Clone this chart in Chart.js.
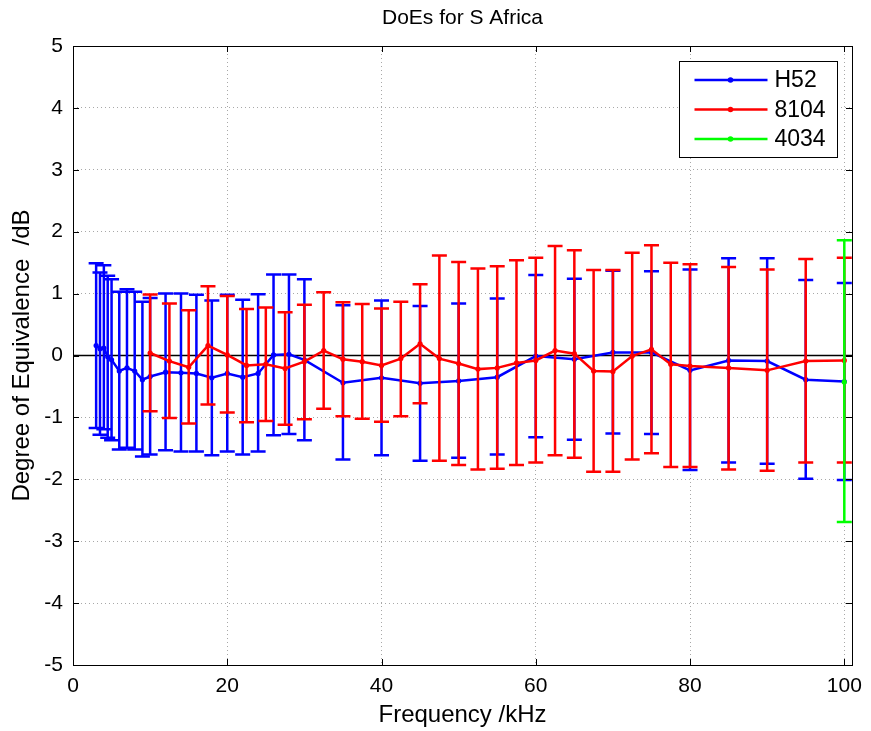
<!DOCTYPE html>
<html>
<head>
<meta charset="utf-8">
<script src="https://cdn.jsdelivr.net/npm/chart.js@4.4.1/dist/chart.umd.min.js"></script>
<style>
  html, body { margin: 0; padding: 0; background: #fff; }
  #wrap { width: 871px; height: 731px; }
</style>
</head>
<body>
<div id="wrap"><canvas id="c" width="871" height="731"></canvas></div>
<script>
// ---- data ----
const chartTitle = 'DoEs for S Africa';
const xTitle = 'Frequency /kHz';
const yTitle = 'Degree of Equivalence  /dB';
const xTicks = [0, 20, 40, 60, 80, 100];
const yTicks = [-5, -4, -3, -2, -1, 0, 1, 2, 3, 4, 5];
const seriesNames = ['H52', '8104', '4034'];

const freqH52 = [3,3.5,4,4.5,5,6,7,8,9,10,12,14,16,18,20,22,24,26,28,30,35,40,45,50,55,60,65,70,75,80,85,90,95,100];
const doeH52  = [0.16,0.11,0.12,-0.02,-0.07,-0.25,-0.20,-0.25,-0.39,-0.34,-0.27,-0.28,-0.29,-0.36,-0.29,-0.35,-0.29,0.01,0.02,-0.07,-0.44,-0.36,-0.45,-0.41,-0.35,-0.01,-0.06,0.05,0.05,-0.24,-0.08,-0.09,-0.39,-0.42];
const upH52   = [1.49,1.34,1.46,1.29,1.23,1.03,1.07,1.03,0.87,0.93,1.00,1.00,0.98,0.89,0.98,0.90,0.99,1.31,1.31,1.23,0.81,0.89,0.80,0.84,0.92,1.30,1.24,1.37,1.36,1.39,1.57,1.57,1.22,1.17];
const loH52   = [-1.17,-1.28,-1.19,-1.33,-1.37,-1.52,-1.49,-1.52,-1.63,-1.60,-1.53,-1.55,-1.55,-1.61,-1.55,-1.60,-1.55,-1.29,-1.27,-1.37,-1.68,-1.61,-1.70,-1.65,-1.60,-1.32,-1.36,-1.26,-1.27,-1.85,-1.73,-1.75,-1.99,-2.01];

const freq8104 = [10,12.5,15,17.5,20,22.5,25,27.5,30,32.5,35,37.5,40,42.5,45,47.5,50,52.5,55,57.5,60,62.5,65,67.5,70,72.5,75,77.5,80,85,90,95,100];
const doe8104  = [0.04,-0.09,-0.19,0.16,0.01,-0.16,-0.14,-0.21,-0.10,0.08,-0.06,-0.10,-0.16,-0.05,0.19,-0.05,-0.13,-0.22,-0.20,-0.12,-0.08,0.08,0.03,-0.25,-0.26,-0.01,0.10,-0.14,-0.17,-0.20,-0.24,-0.09,-0.08];
const up8104   = [0.985,0.84,0.73,1.12,0.96,0.75,0.775,0.70,0.82,1.02,0.86,0.83,0.76,0.87,1.15,1.615,1.51,1.405,1.44,1.54,1.58,1.77,1.70,1.38,1.38,1.66,1.78,1.50,1.475,1.43,1.39,1.56,1.58];
const lo8104   = [-0.90,-1.01,-1.10,-0.79,-0.92,-1.08,-1.06,-1.12,-1.03,-0.86,-0.98,-1.02,-1.07,-0.98,-0.77,-1.70,-1.77,-1.84,-1.83,-1.77,-1.73,-1.61,-1.65,-1.88,-1.88,-1.68,-1.58,-1.80,-1.80,-1.84,-1.86,-1.73,-1.73];

const freq4034 = [100];
const doe4034  = [-0.43];
const up4034   = [1.86];
const lo4034   = [-2.69];

// ---- chart ----
const FONT = "'Liberation Sans', Arial, Helvetica, sans-serif";
Chart.defaults.font.family = FONT;
Chart.defaults.color = '#000';

function pts(xs, ys) { return xs.map((x, i) => ({ x: x, y: ys[i] })); }

function mkSet(label, xs, ys, up, lo, color, order) {
  return {
    label: label, data: pts(xs, ys), errHigh: up, errLow: lo,
    borderColor: color, backgroundColor: color,
    borderWidth: 2.5, pointRadius: 2.6, pointHoverRadius: 2.6,
    pointBorderWidth: 0, showLine: true, tension: 0, order: order
  };
}

const errorBars = {
  id: 'errorBars',
  afterDatasetDraw(chart, args) {
    const ds = chart.data.datasets[args.index];
    if (!ds.errHigh) return;
    const xs = chart.scales.x, ys = chart.scales.y, ctx = chart.ctx;
    ctx.save();
    ctx.strokeStyle = ds.borderColor;
    ctx.lineWidth = 2.5;
    ctx.lineCap = 'butt';
    ds.data.forEach((p, i) => {
      const x = xs.getPixelForValue(p.x);
      const yh = ys.getPixelForValue(ds.errHigh[i]);
      const yl = ys.getPixelForValue(ds.errLow[i]);
      ctx.beginPath();
      ctx.moveTo(x, yh); ctx.lineTo(x, yl);
      ctx.moveTo(x - 7.5, yh); ctx.lineTo(x + 7.5, yh);
      ctx.moveTo(x - 7.5, yl); ctx.lineTo(x + 7.5, yl);
      ctx.stroke();
    });
    ctx.restore();
  }
};

const frame = {
  id: 'frame',
  beforeDatasetsDraw(chart) {
    const { ctx, chartArea: a } = chart;
    const y0 = chart.scales.y.getPixelForValue(0);
    ctx.save();
    ctx.strokeStyle = '#000';
    ctx.lineWidth = 1.5;
    ctx.beginPath();
    ctx.moveTo(a.left, y0); ctx.lineTo(a.right, y0);
    ctx.stroke();
    ctx.restore();
  },
  afterDraw(chart) {
    const { ctx, chartArea: a } = chart;
    const xs = chart.scales.x, ys = chart.scales.y;
    ctx.save();
    ctx.strokeStyle = '#000';
    ctx.lineWidth = 1;
    ctx.strokeRect(Math.round(a.left) + 0.5, Math.round(a.top) + 0.5,
                   Math.round(a.right - a.left), Math.round(a.bottom - a.top));
    const tl = 6;
    ctx.beginPath();
    xTicks.forEach(v => {
      const x = Math.round(xs.getPixelForValue(v)) + 0.5;
      ctx.moveTo(x, a.bottom); ctx.lineTo(x, a.bottom - tl);
      ctx.moveTo(x, a.top); ctx.lineTo(x, a.top + tl);
    });
    yTicks.forEach(v => {
      const y = Math.round(ys.getPixelForValue(v)) + 0.5;
      ctx.moveTo(a.left, y); ctx.lineTo(a.left + tl, y);
      ctx.moveTo(a.right, y); ctx.lineTo(a.right - tl, y);
    });
    ctx.stroke();

    // legend box
    const bw = 158, bh = 96;
    const bx = Math.round(a.right - 15 - bw) + 0.5, by = Math.round(a.top + 15) + 0.5;
    ctx.fillStyle = '#fff';
    ctx.fillRect(bx, by, bw, bh);
    ctx.strokeRect(bx, by, bw, bh);
    ctx.font = '23px ' + FONT;
    ctx.textBaseline = 'middle';
    ctx.textAlign = 'left';
    chart.data.datasets.forEach((ds, i) => {
      const ry = by + 18.5 + i * 29.5;
      ctx.strokeStyle = ds.borderColor;
      ctx.lineWidth = 2.5;
      ctx.beginPath();
      ctx.moveTo(bx + 15, ry); ctx.lineTo(bx + 88, ry);
      ctx.stroke();
      ctx.fillStyle = ds.borderColor;
      ctx.beginPath();
      ctx.arc(bx + 51, ry, 2.8, 0, Math.PI * 2);
      ctx.fill();
      ctx.fillStyle = '#000';
      ctx.fillText(ds.label, bx + 95, ry + 1);
    });
    ctx.restore();
  }
};

new Chart(document.getElementById('c'), {
  type: 'scatter',
  data: {
    datasets: [
      mkSet(seriesNames[0], freqH52, doeH52, upH52, loH52, '#0000ff', 3),
      mkSet(seriesNames[1], freq8104, doe8104, up8104, lo8104, '#ff0000', 2),
      mkSet(seriesNames[2], freq4034, doe4034, up4034, lo4034, '#00ff00', 1)
    ]
  },
  options: {
    responsive: false,
    animation: false,
    events: [],
    layout: { padding: { left: 0, right: 17, top: 0, bottom: 0 } },
    plugins: {
      legend: { display: false },
      tooltip: { enabled: false },
      title: {
        display: true, text: chartTitle, color: '#000', fullSize: false,
        font: { size: 21, weight: 'normal' },
        padding: { top: 6, bottom: 14.8 }
      }
    },
    scales: {
      x: {
        type: 'linear', min: 0, max: 101,
        afterBuildTicks: s => { s.ticks = xTicks.map(v => ({ value: v })); },
        afterFit: s => { s.height = 66; },
        grid: { color: '#a8a8a8', lineWidth: 1, drawTicks: false },
        border: { display: false, dash: [1, 3] },
        ticks: { padding: 9, font: { size: 21 }, color: '#000', maxRotation: 0 },
        title: { display: true, text: xTitle, color: '#000', font: { size: 24 }, padding: { top: 0, bottom: 1 } }
      },
      y: {
        type: 'linear', min: -5, max: 5,
        afterBuildTicks: s => { s.ticks = yTicks.map(v => ({ value: v })); },
        afterFit: s => { s.width = 73; },
        grid: { color: '#a8a8a8', lineWidth: 1, drawTicks: false },
        border: { display: false, dash: [1, 3] },
        ticks: { padding: 10, font: { size: 21 }, color: '#000' },
        title: { display: true, text: yTitle, color: '#000', font: { size: 24 }, padding: { top: 7.5, bottom: 0 } }
      }
    }
  },
  plugins: [errorBars, frame]
});
</script>
</body>
</html>
